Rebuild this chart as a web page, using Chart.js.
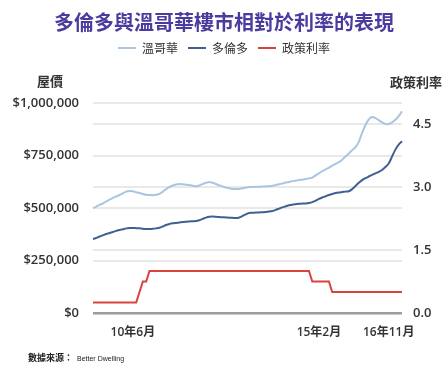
<!DOCTYPE html>
<html>
<head>
<meta charset="utf-8">
<script src="https://cdn.jsdelivr.net/npm/chart.js@4"></script>
<style>
html,body{margin:0;padding:0;background:#fff;}
#wrap{position:relative;width:448px;height:373px;font-family:"Noto Sans CJK TC","Noto Sans",sans-serif;}
canvas{position:absolute;left:0;top:0;}
.ax{position:absolute;font-size:13px;font-weight:700;color:#333;white-space:nowrap;line-height:13px;}
#src{position:absolute;left:28px;top:353px;font-size:9px;font-weight:700;color:#222;white-space:nowrap;line-height:10px;}
#src span{font-size:7px;font-weight:400;font-family:"Liberation Sans",sans-serif;margin-left:4px;}
</style>
</head>
<body>
<div id="wrap">
<canvas id="c" width="448" height="373"></canvas>
<div class="ax" style="left:37px;top:74px;">屋價</div>
<div class="ax" style="left:390px;top:75px;">政策利率</div>
<div id="src">數據來源：<span>Better Dwelling</span></div>
</div>
<script>
// Months from 2009-06 to 2017-03
const months = [];
for (let y = 2009, m = 6; y < 2017 || (y === 2017 && m <= 3); ) {
  months.push((y % 100) + '年' + m + '月');
  m++; if (m > 12) { m = 1; y++; }
}
const shownLabels = ['10年6月', '15年2月', '16年11月'];

// Vancouver benchmark price (thousand CAD)
const vancouver = [
  500,507,515,522,532,540,548,555,562,570,578,581,580,575,571,567,563,562,561,563,
  567,578,590,600,607,612,614,613,611,609,606,603,607,614,620,624,620,614,608,603,
  598,594,591,590,591,594,597,600,600,601,601,602,603,604,606,609,613,617,621,624,
  628,630,633,635,638,641,645,655,665,675,684,692,702,710,718,730,745,760,775,790,
  815,858,895,922,933,928,918,908,900,900,908,920,938,960
];
// Toronto benchmark price (thousand CAD)
const toronto = [
  352,358,364,370,376,381,386,391,395,399,403,405,405,404,403,401,400,400,401,403,
  406,412,419,424,427,429,431,433,435,436,437,438,442,448,454,458,459,458,457,456,
  455,454,453,452,455,462,470,476,477,478,479,480,481,483,486,491,497,503,508,513,
  516,518,520,521,522,524,528,535,543,550,556,562,567,571,574,576,578,580,590,605,
  620,633,642,650,658,665,672,681,695,712,745,778,802,818
];
// Bank of Canada policy rate (%)
const policyRate = [
  0.25,0.25,0.25,0.25,0.25,0.25,0.25,0.25,0.25,0.25,0.25,0.25,0.25,0.25,0.5,0.75,0.75,1,1,1,
  1,1,1,1,1,1,1,1,1,1,1,1,1,1,1,1,1,1,1,1,
  1,1,1,1,1,1,1,1,1,1,1,1,1,1,1,1,1,1,1,1,
  1,1,1,1,1,1,0.75,0.75,0.75,0.75,0.75,0.75,0.5,0.5,0.5,0.5,0.5,0.5,0.5,0.5,
  0.5,0.5,0.5,0.5,0.5,0.5,0.5,0.5,0.5,0.5,0.5,0.5,0.5,0.5
];
const leftTicks = [0, 250000, 500000, 750000, 1000000];
const rightTicks = [0, 1.5, 3.0, 4.5];
const seriesNames = ['溫哥華', '多倫多', '政策利率'];

const tickFont = { family: "'Open Sans', 'Noto Sans CJK TC', sans-serif", size: 13, weight: '600' };
const xFont = { family: "'Open Sans', 'Noto Sans CJK TC', sans-serif", size: 12, weight: '600' };

const legendSpace = {
  id: 'legendSpace',
  beforeInit(chart) {
    const orig = chart.legend.fit;
    chart.legend.fit = function () {
      orig.call(this);
      this.height = 71;
    };
  }
};

new Chart(document.getElementById('c'), {
  type: 'line',
  data: {
    labels: months,
    datasets: [
      { label: seriesNames[0], data: vancouver.map(v => v * 1000), borderColor: '#a9c5e2', backgroundColor: '#a9c5e2', borderWidth: 2, pointRadius: 0, tension: 0.3, yAxisID: 'y' },
      { label: seriesNames[1], data: toronto.map(v => v * 1000), borderColor: '#3f6191', backgroundColor: '#3f6191', borderWidth: 2, pointRadius: 0, tension: 0.3, yAxisID: 'y' },
      { label: seriesNames[2], data: policyRate, borderColor: '#d9443a', backgroundColor: '#d9443a', borderWidth: 2, pointRadius: 0, tension: 0, yAxisID: 'y1' }
    ]
  },
  options: {
    responsive: false,
    animation: false,
    layout: { padding: { left: 0, right: 0, top: 0, bottom: 0 } },
    plugins: {
      title: {
        display: true,
        text: '多倫多與溫哥華樓市相對於利率的表現',
        color: '#4a3c9e',
        font: { family: "'Noto Sans CJK TC', sans-serif", size: 20, weight: 'bold', lineHeight: 1 },
        padding: { top: 12, bottom: 0 }
      },
      legend: {
        display: true,
        labels: {
          usePointStyle: true,
          pointStyle: 'line',
          pointStyleWidth: 18,
          boxHeight: 12,
          padding: 10,
          color: '#333',
          font: { family: "'Noto Sans CJK TC', sans-serif", size: 12 }
        }
      },
      tooltip: { enabled: false }
    },
    scales: {
      x: {
        type: 'category',
        offset: false,
        grid: { display: false },
        border: { display: false },
        afterBuildTicks(scale) {
          scale.ticks = scale.ticks.filter(t => shownLabels.includes(months[t.value]));
        },
        afterFit(scale) { scale.height = 60; },
        ticks: {
          autoSkip: false, maxRotation: 0, minRotation: 0, padding: 4,
          color: '#333', font: xFont,
          callback(v) { return months[v]; }
        }
      },
      y: {
        position: 'left',
        min: 0, max: 1000000,
        afterBuildTicks(scale) { scale.ticks = leftTicks.map(v => ({ value: v })); },
        afterFit(scale) { scale.width = 93; },
        border: { display: false },
        grid: {
          color: ctx => ctx.tick && ctx.tick.value === 0 ? '#9c9c9c' : '#e9e9e9',
          lineWidth: ctx => ctx.tick && ctx.tick.value === 0 ? 2.5 : 2,
          drawTicks: false
        },
        ticks: {
          padding: 14, color: '#333', font: tickFont,
          callback(v) { return '$' + v.toLocaleString('en-US'); }
        }
      },
      y1: {
        position: 'right',
        min: 0, max: 5,
        afterBuildTicks(scale) { scale.ticks = rightTicks.map(v => ({ value: v })); },
        afterFit(scale) { scale.width = 46; },
        border: { display: false },
        grid: {
          color: ctx => ctx.tick && ctx.tick.value === 0 ? 'rgba(0,0,0,0)' : '#e9e9e9',
          lineWidth: 2,
          drawTicks: false
        },
        ticks: {
          padding: 11, color: '#333', font: tickFont,
          callback(v) { return v.toFixed(1); }
        }
      }
    }
  },
  plugins: [legendSpace]
});
</script>
</body>
</html>
